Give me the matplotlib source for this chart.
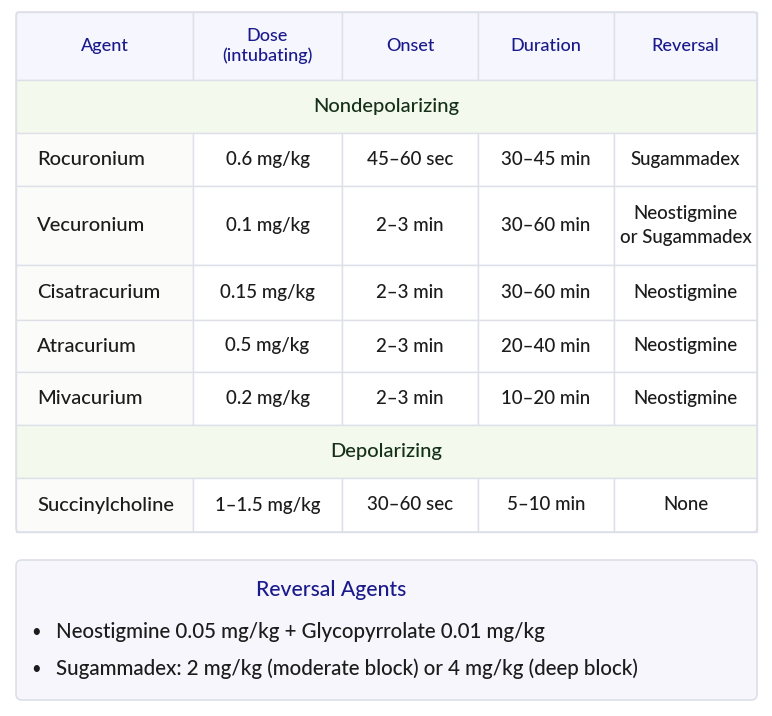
import matplotlib
matplotlib.use("Agg")
import matplotlib.pyplot as plt
from matplotlib.patches import Rectangle, FancyBboxPatch

plt.rcParams["font.family"] = ["Lato", "DejaVu Sans"]

# --- Table content ---------------------------------------------------------
headers = ["Agent", "Dose\n(intubating)", "Onset", "Duration", "Reversal"]
nondepol_title = "Nondepolarizing"
nondepol_rows = [
    ["Rocuronium", "0.6 mg/kg", "45–60 sec", "30–45 min", "Sugammadex"],
    ["Vecuronium", "0.1 mg/kg", "2–3 min", "30–60 min", "Neostigmine\nor Sugammadex"],
    ["Cisatracurium", "0.15 mg/kg", "2–3 min", "30–60 min", "Neostigmine"],
    ["Atracurium", "0.5 mg/kg", "2–3 min", "20–40 min", "Neostigmine"],
    ["Mivacurium", "0.2 mg/kg", "2–3 min", "10–20 min", "Neostigmine"],
]
depol_title = "Depolarizing"
depol_rows = [
    ["Succinylcholine", "1–1.5 mg/kg", "30–60 sec", "5–10 min", "None"],
]
box_title = "Reversal Agents"
box_items = [
    "Neostigmine 0.05 mg/kg + Glycopyrrolate 0.01 mg/kg",
    "Sugammadex: 2 mg/kg (moderate block) or 4 mg/kg (deep block)",
]

# --- Layout (pixel coordinates, y downward) ---------------------------------
W, H = 772, 716
col_x = [16, 193, 342, 478, 614, 757]
header_h = 68
section_h = 53
row_h = [53, 79, 55, 52, 53]
depol_row_h = [54]

HEADER_BG = "#f6f6fe"
SECTION_BG = "#f4f9ee"
FIRST_COL_BG = "#fbfcf9"
LINE = "#dde0e8"
HEAD_TXT = "#1a1a8c"
BODY_TXT = "#1c1c1c"
SECTION_TXT = "#15301a"

fig = plt.figure(figsize=(W / 100, H / 100), dpi=100)
ax = fig.add_axes([0, 0, 1, 1])
ax.set_xlim(0, W)
ax.set_ylim(H, 0)
ax.axis("off")


def cell(x0, x1, y0, y1, bg):
    ax.add_patch(Rectangle((x0, y0), x1 - x0, y1 - y0, facecolor=bg,
                           edgecolor=LINE, linewidth=1))


def row(values, y, h):
    for i, v in enumerate(values):
        bg = FIRST_COL_BG if i == 0 else "white"
        cell(col_x[i], col_x[i + 1], y, y + h, bg)
        if i == 0:
            ax.text(col_x[0] + 21, y + h / 2, v, ha="left", va="center",
                    fontsize=14.5, color=BODY_TXT, fontweight="medium")
        else:
            ax.text((col_x[i] + col_x[i + 1]) / 2, y + h / 2, v, ha="center",
                    va="center", fontsize=13.5, color=BODY_TXT,
                    fontweight="medium", linespacing=1.45)


def section(title, y):
    cell(col_x[0], col_x[-1], y, y + section_h, SECTION_BG)
    ax.text((col_x[0] + col_x[-1]) / 2, y + section_h / 2, title, ha="center",
            va="center", fontsize=14.5, color=SECTION_TXT, fontweight="medium")


y = 12
for i, h in enumerate(headers):
    cell(col_x[i], col_x[i + 1], y, y + header_h, HEADER_BG)
    ax.text((col_x[i] + col_x[i + 1]) / 2, y + header_h / 2, h, ha="center",
            va="center", fontsize=13, color=HEAD_TXT, fontweight="medium",
            linespacing=1.3)
y += header_h

section(nondepol_title, y)
y += section_h
for vals, h in zip(nondepol_rows, row_h):
    row(vals, y, h)
    y += h

section(depol_title, y)
y += section_h
for vals, h in zip(depol_rows, depol_row_h):
    row(vals, y, h)
    y += h

# outer border
ax.add_patch(FancyBboxPatch((col_x[0], 12), col_x[-1] - col_x[0], y - 12,
                            boxstyle="round,pad=0,rounding_size=4",
                            facecolor="none", edgecolor=LINE, linewidth=1.2))

# --- Reversal agents box ----------------------------------------------------
bx0, by0, bx1, by1 = 16, 560, 757, 700
ax.add_patch(FancyBboxPatch((bx0, by0), bx1 - bx0, by1 - by0,
                            boxstyle="round,pad=0,rounding_size=6",
                            facecolor="#f6f6fc", edgecolor=LINE, linewidth=1.2))
ax.text(331, 590, box_title, ha="center", va="center", fontsize=15.2,
        color=HEAD_TXT, fontweight="medium")
for k, item in enumerate(box_items):
    yy = 632 + k * 37
    ax.text(36, yy, "•", ha="center", va="center", fontsize=12, color=BODY_TXT)
    ax.text(56, yy, item, ha="left", va="center", fontsize=14.8,
            color=BODY_TXT, fontweight="medium")

fig.savefig("out.png", dpi=100)
